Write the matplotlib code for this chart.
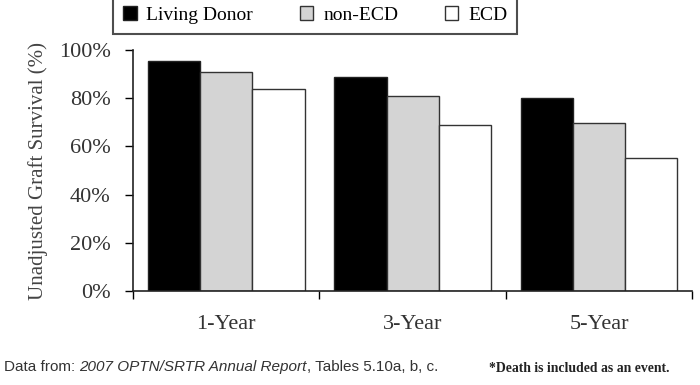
import matplotlib.pyplot as plt
import numpy as np

# данные
categories = ['1-Year', '3-Year', '5-Year']
living_donor = [95.4, 88.8, 80.1]
non_ecd = [90.9, 80.9, 69.7]
ecd = [83.8, 68.9, 55.2]
y_ticks = [0, 20, 40, 60, 80, 100]

fig = plt.figure(figsize=(7, 3.85), dpi=100)
ax = fig.add_axes([0.19, 0.244, 0.799, 0.626])

x = np.arange(len(categories)) + 0.5
w = 0.28
serif = 'Liberation Serif'

ax.bar(x - w, living_donor, w, color='black', edgecolor='#222222', linewidth=1, label='Living Donor')
ax.bar(x, non_ecd, w, color='#d4d4d4', edgecolor='#333333', linewidth=1, label='non-ECD')
ax.bar(x + w, ecd, w, color='white', edgecolor='#333333', linewidth=1, label='ECD')

ax.set_xlim(0, 3)
ax.set_ylim(0, 100)
ax.set_yticks(y_ticks)
ax.set_yticklabels([f'{v}%' for v in y_ticks], fontfamily=serif, fontsize=16, color='#333333')
ax.set_xticks(x)
ax.set_xticklabels(categories, fontfamily=serif, fontsize=16, color='#333333')
ax.tick_params(axis='x', which='major', length=0, pad=17)
ax.set_xticks([0, 1, 2, 3], minor=True)
ax.tick_params(axis='x', which='minor', length=6, direction='out', width=1)
ax.tick_params(axis='y', length=6, direction='out', width=1, pad=10)

for s in ['top', 'right']:
    ax.spines[s].set_visible(False)
for s in ['left', 'bottom']:
    ax.spines[s].set_linewidth(1.2)
    ax.spines[s].set_color('#222222')

ax.set_ylabel('Unadjusted Graft Survival (%)', fontfamily=serif, fontsize=15, color='#444444', labelpad=8)

leg = fig.legend(loc='upper left', bbox_to_anchor=(0.162, 1.009), ncol=3, frameon=True,
                 prop={'family': serif, 'size': 14}, handlelength=0.7, handleheight=0.7,
                 columnspacing=2.4, handletextpad=0.5, borderpad=0.5, borderaxespad=0,
                 fancybox=False)
leg.get_frame().set_edgecolor('#222222')
leg.get_frame().set_linewidth(1.5)

# подписи внизу, кусками
fig.canvas.draw()
r = fig.canvas.get_renderer()
sans = 'Liberation Sans'
xpos = 4
for txt, st in [('Data from: ', 'normal'), ('2007 OPTN/SRTR Annual Report', 'italic'),
                (', Tables 5.10a, b, c.', 'normal')]:
    t = fig.text(xpos / 700, 0.037, txt, fontfamily=sans, fontsize=11, style=st, color='#333333')
    xpos = t.get_window_extent(r).x1
fig.text(0.698, 0.033, '*Death is included as an event.', fontfamily=serif, fontsize=9.9,
         fontweight='bold', color='#222222')

fig.savefig('out.png', dpi=100)
